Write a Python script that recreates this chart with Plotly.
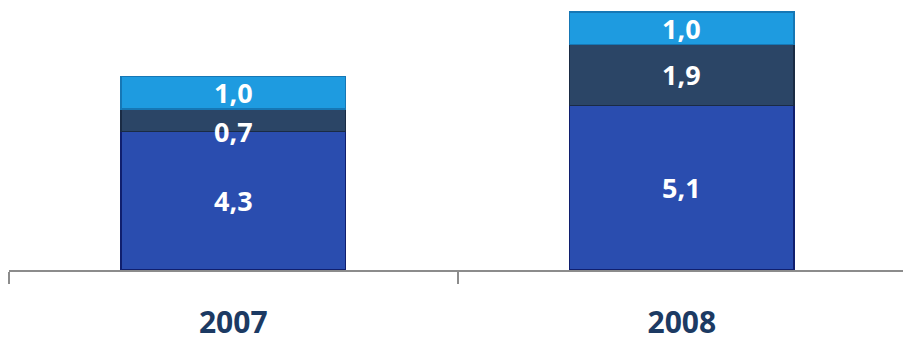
import plotly.graph_objects as go

years = ["2007", "2008"]
base_vals = [4.3, 5.1]
mid_vals = [0.7, 1.9]
top_vals = [1.0, 1.0]

def fmt(v):
    return f"{v:.1f}".replace(".", ",")

series = [
    (base_vals, "#2A4DAF", "#101F6E"),
    (mid_vals, "#2B4566", "#1A2B44"),
    (top_vals, "#1E9BE0", "#1677B5"),
]

fig = go.Figure()
cum = [0.0] * len(years)
for vals, color, edge in series:
    fig.add_trace(go.Bar(
        x=years, y=vals,
        marker=dict(color=color, line=dict(color=edge, width=1.5)),
        width=0.5,
        hoverinfo="skip",
    ))
    for i, v in enumerate(vals):
        # thin segments get their label on their lower edge
        ypos = cum[i] + v / 2 if v >= 1.0 else cum[i]
        fig.add_annotation(
            x=i, y=ypos, xref="x", yref="y", text=fmt(v), showarrow=False,
            xanchor="center", yanchor="middle",
            font=dict(family="Open Sans", size=27, color="white", weight="bold"),
        )
        cum[i] += v

fig.update_layout(
    barmode="stack",
    width=903, height=342,
    margin=dict(l=9, r=0, t=0, b=72),
    paper_bgcolor="white", plot_bgcolor="white",
    showlegend=False,
)
fig.update_xaxes(
    type="category",
    range=[-0.5, 1.493],
    automargin=False,
    showline=True, linecolor="#8C8C8C", linewidth=2,
    ticks="outside", tickson="boundaries", ticklen=12,
    tickcolor="#8C8C8C", tickwidth=2,
    ticklabelstandoff=25,
    tickfont=dict(family="Open Sans", size=30, color="#1C3A63", weight="bold"),
    showgrid=False,
)
fig.update_yaxes(visible=False, range=[0, 8.372], showgrid=False, automargin=False)

fig.write_html("out.html")
